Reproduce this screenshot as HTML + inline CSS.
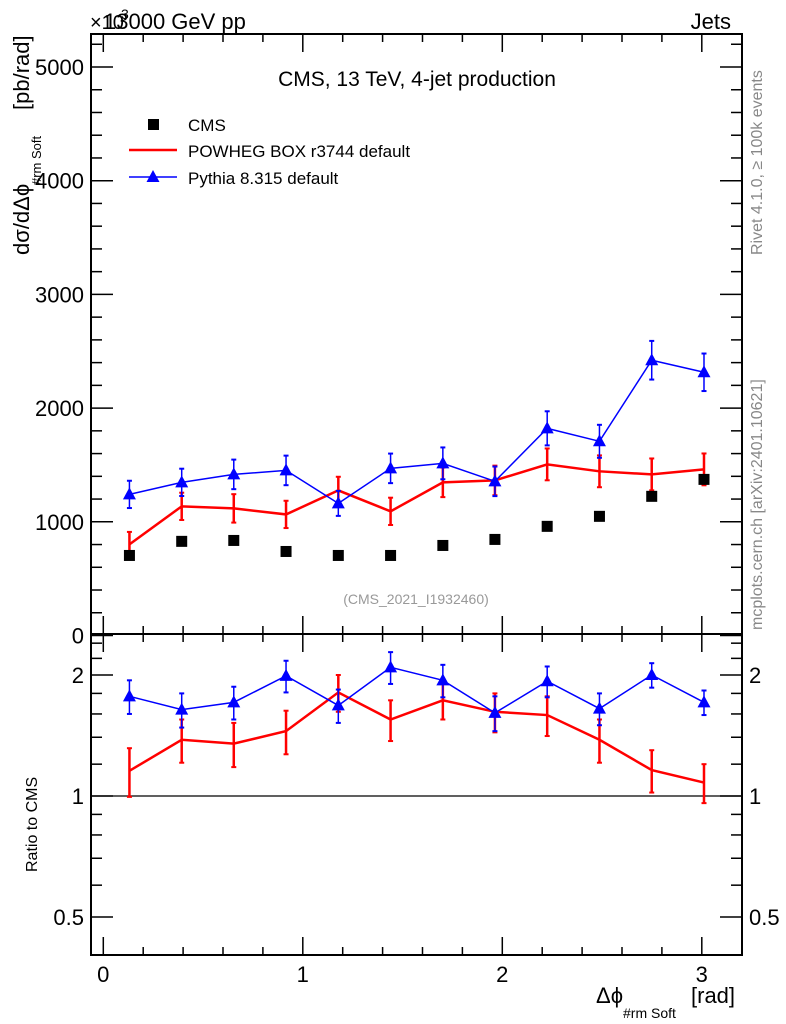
<!DOCTYPE html>
<html><head><meta charset="utf-8"><style>
body{margin:0;background:#fff}
svg{display:block;font-family:"Liberation Sans",sans-serif}
</style></head><body>
<svg id="c" width="786" height="1024" viewBox="0 0 786 1024"></svg>
<script>
const binCenters=[0.131,0.393,0.654,0.916,1.178,1.440,1.702,1.963,2.225,2.487,2.749,3.011];
const cmsVals=[704,828,836,739,704,704,792,845,960,1048,1224,1373];
const powVals=[801,1136,1118,1065,1276,1092,1347,1364,1505,1444,1417,1461];
const powErr=[110,120,125,120,120,120,130,130,140,140,140,140];
const pyVals=[1241,1347,1417,1452,1162,1470,1514,1356,1822,1708,2421,2315];
const pyErr=[120,120,130,130,110,130,140,130,150,145,170,165];
const powRatio=[1.155,1.38,1.35,1.45,1.81,1.55,1.73,1.62,1.59,1.38,1.16,1.08];
const powRatioErr=[0.16,0.17,0.17,0.18,0.19,0.18,0.18,0.18,0.18,0.17,0.14,0.12];
const pyRatio=[1.77,1.64,1.71,1.99,1.68,2.09,1.94,1.61,1.93,1.65,2.0,1.71];
const pyRatioErr=[0.17,0.16,0.16,0.18,0.16,0.19,0.18,0.16,0.17,0.15,0.14,0.12];
const mainTicks=[0,1000,2000,3000,4000,5000];
const mainTickLabels=["0","1000","2000","3000","4000","5000"];
const xTicks=[0,1,2,3];
const ratioTicks=[0.5,1,2];

const NS="http://www.w3.org/2000/svg";
const svg=document.getElementById('c');
const L=91,R=742,T=34,MB=634,RB=955;
const X=v=>103.3+v*199.5;
const Y=v=>635.5-v*0.1137;
const YR=v=>796-Math.log2(v)*121;
function el(t,a,p){const e=document.createElementNS(NS,t);for(const k in a)e.setAttribute(k,a[k]);(p||svg).appendChild(e);return e;}
function txt(s,a){const e=el('text',a);e.textContent=s;return e;}

let f=el('rect',{x:L,y:T,width:R-L,height:MB-T,fill:'none',stroke:'#000','stroke-width':2});

f=el('rect',{x:L,y:MB,width:R-L,height:RB-MB,fill:'none',stroke:'#000','stroke-width':2});


for(let v=0;v<=3.2;v+=0.2){const x=X(v);const maj=Math.abs(v-Math.round(v))<1e-6;const l=maj?18:8;
 for(const [y0,d] of [[T,1],[MB,-1],[MB,1],[RB,-1]]) el('line',{x1:x,x2:x,y1:y0,y2:y0+d*l,stroke:'#000','stroke-width':1.5});}
xTicks.forEach(v=>{const t=txt(String(v),{x:X(v),y:982,'font-size':22,'text-anchor':'middle'});
 });
for(let v=0;v<=5200;v+=200){const y=Y(v);const maj=v%1000===0;const l=maj?22:11;
 el('line',{x1:L,x2:L+l,y1:y,y2:y,stroke:'#000','stroke-width':1.5});
 el('line',{x1:R,x2:R-l,y1:y,y2:y,stroke:'#000','stroke-width':1.5});}
mainTicks.forEach((v,i)=>{const t=txt(mainTickLabels[i],{x:84,y:Y(v)+8,'font-size':22,'text-anchor':'end'});
 });
[0.6,0.7,0.8,0.9,1.2,1.4,1.6,1.8,2.2,2.4].forEach(v=>{const y=YR(v);
 el('line',{x1:L,x2:L+11,y1:y,y2:y,stroke:'#000','stroke-width':1.5});el('line',{x1:R,x2:R-11,y1:y,y2:y,stroke:'#000','stroke-width':1.5});});
ratioTicks.forEach(v=>{const y=YR(v);
 el('line',{x1:L,x2:L+22,y1:y,y2:y,stroke:'#000','stroke-width':1.5});el('line',{x1:R,x2:R-22,y1:y,y2:y,stroke:'#000','stroke-width':1.5});
 let t=txt(String(v),{x:84,y:y+8,'font-size':22,'text-anchor':'end'});
 t=txt(String(v),{x:749,y:y+8,'font-size':22});});
el('line',{x1:L,x2:R,y1:YR(1),y2:YR(1),stroke:'#000','stroke-width':1.3});

function series(vals,errs,yf,color,w,marker,name){
 const g=el('g',{});
 el('polyline',{points:vals.map((v,i)=>X(binCenters[i])+','+yf(v)).join(' '),fill:'none',stroke:color,'stroke-width':w},g);
 vals.forEach((v,i)=>{const x=X(binCenters[i]);const y1=yf(v+errs[i]),y2=yf(v-errs[i]);
  el('line',{x1:x,x2:x,y1:y1,y2:y2,stroke:color,'stroke-width':w},g);
  el('line',{x1:x-2.5,x2:x+2.5,y1:y1,y2:y1,stroke:color,'stroke-width':2},g);
  el('line',{x1:x-2.5,x2:x+2.5,y1:y2,y2:y2,stroke:color,'stroke-width':2},g);
  if(marker){const y=yf(v);el('polygon',{points:`${x},${y-7} ${x-6.5},${y+5} ${x+6.5},${y+5}`,fill:color},g);}
 });
}
series(powVals,powErr,Y,'#f00',2.5,false,'powheg-series');
series(pyVals,pyErr,Y,'#00f',1.5,true,'pythia-series');
const cg=el('g',{});
cmsVals.forEach((v,i)=>el('rect',{x:X(binCenters[i])-5.5,y:Y(v)-5.5,width:11,height:11,fill:'#000'},cg));
series(powRatio,powRatioErr,YR,'#f00',2.5,false,'powheg-ratio');
series(pyRatio,pyRatioErr,YR,'#00f',1.5,true,'pythia-ratio');

const lg=el('g',{});
el('rect',{x:148,y:119,width:11,height:11,fill:'#000'},lg);
el('line',{x1:129,x2:177,y1:150,y2:150,stroke:'#f00','stroke-width':2.5},lg);
el('line',{x1:129,x2:177,y1:177,y2:177,stroke:'#00f','stroke-width':1.5},lg);
el('polygon',{points:'153,170 146.5,182 159.5,182',fill:'#00f'},lg);
[['CMS',131],['POWHEG BOX r3744 default',157],['Pythia 8.315 default',184]].forEach(([s,y])=>{
 const t=txt(s,{x:188,y:y,'font-size':17});});

const labels=[
 ['CMS, 13 TeV, 4-jet production',{x:417,y:86,'font-size':21,'text-anchor':'middle'},'plot-title'],
 ['13000 GeV pp',{x:104,y:29,'font-size':22},'beam-label'],
 ['×10',{x:90,y:29,'font-size':20},'y-scale-label'],
 ['3',{x:121,y:19,'font-size':14},'y-scale-exponent'],
 ['Jets',{x:731,y:29,'font-size':22,'text-anchor':'end'},'process-label'],
 ['(CMS_2021_I1932460)',{x:416,y:604,'font-size':14,fill:'#999','text-anchor':'middle'},'analysis-id'],
 ['Δϕ',{x:596,y:1003,'font-size':22},'x-axis-title'],
 ['#rm Soft',{x:623,y:1018,'font-size':14},'x-axis-subscript'],
 ['[rad]',{x:691,y:1003,'font-size':22},'x-axis-unit'],
];
labels.forEach(([s,a,n])=>{const t=txt(s,a);});
function rot(s,x,y,size,fill,anchor,n){const t=txt(s,{x:0,y:0,'font-size':size,fill:fill,'text-anchor':anchor,transform:`translate(${x},${y}) rotate(-90)`});
 }
rot('dσ/dΔϕ',29,255,22,'#000','start','y-axis-title');
rot('#rm Soft',41,185,13,'#000','start','y-axis-subscript');
rot('[pb/rad]',29,110,22,'#000','start','y-axis-unit');
rot('Ratio to CMS',37,872,16,'#000','start','ratio-axis-title');
rot('Rivet 4.1.0, ≥ 100k events',762,255,16,'#888','start','rivet-label');
rot('mcplots.cern.ch [arXiv:2401.10621]',762,630,16,'#888','start','mcplots-label');
</script>
</body></html>
